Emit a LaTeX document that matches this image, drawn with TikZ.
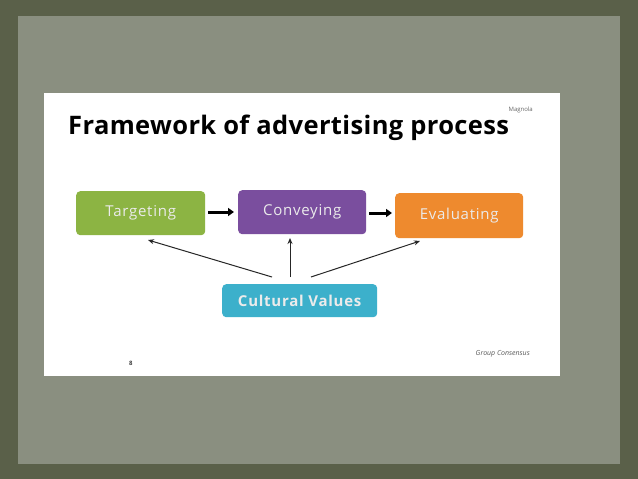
\documentclass[tikz,border=0pt]{standalone}
\usepackage{fontspec}
\setmainfont{Open Sans}
\newfontfamily\boxfont[LetterSpace=5]{Open Sans}
\newfontfamily\titlefont[LetterSpace=1.5]{Open Sans}
\usetikzlibrary{arrows.meta}
\definecolor{frameDark}{HTML}{5A6049}
\definecolor{panel}{HTML}{8A8F80}
\definecolor{tgreen}{HTML}{8CB443}
\definecolor{cpurple}{HTML}{7A4E9E}
\definecolor{eorange}{HTML}{EE8A2E}
\definecolor{cteal}{HTML}{3CB0CB}
\tikzset{
  x=1pt,y=-1pt,
  stepbox/.style={draw=none,rounded corners=4pt,text=white!92!black,font=\boxfont\fontsize{15}{18}\selectfont,inner sep=0pt,anchor=north west},
  thickarrow/.style={line width=3pt,-{Triangle[length=6pt,width=8pt]}},
  thinarrow/.style={line width=1pt,draw=black!85,-{Stealth[length=6pt,width=5pt]}}
}
\begin{document}
\begin{tikzpicture}
\useasboundingbox (0,0) rectangle (638,479);
\fill[frameDark] (0,0) rectangle (638,479);
\fill[panel] (18,16) rectangle (620,464);
\fill[white] (44,93) rectangle (560,376);
\node[anchor=base west,font=\titlefont\bfseries\fontsize{25.5}{30}\selectfont,inner sep=0pt] (title) at (68,134) {Framework of advertising process};
\node[anchor=base east,font=\fontsize{6}{7}\selectfont,text=black!60,inner sep=0pt] (mag) at (533,111) {Magnola};
\node[stepbox,fill=tgreen,minimum width=129pt,minimum height=44pt] (t) at (76,191) {Targeting};
\node[stepbox,fill=cpurple,minimum width=128pt,minimum height=44pt] (c) at (238,190) {Conveying};
\node[stepbox,fill=eorange,minimum width=128pt,minimum height=45pt] (e) at (395,193) {Evaluating};
\node[stepbox,fill=cteal,minimum width=155pt,minimum height=33pt,font=\boxfont\bfseries\fontsize{15}{18}\selectfont] (cv) at (222,284) {Cultural Values};
\coordinate (a1s) at (208,212);
\coordinate (a1e) at (234,212);
\coordinate (a2s) at (369,213);
\coordinate (a2e) at (392,213);
\draw[thickarrow] (a1s) -- (a1e);
\draw[thickarrow] (a2s) -- (a2e);
\coordinate (s1) at (272,277);
\coordinate (s2) at (290,277);
\coordinate (s3) at (311,277);
\coordinate (e1) at (148,240);
\coordinate (e2) at (290,238);
\coordinate (e3) at (420,241);
\draw[thinarrow] (s1) -- (e1);
\draw[thinarrow] (s2) -- (e2);
\draw[thinarrow] (s3) -- (e3);
\node[anchor=base east,font=\itshape\fontsize{7}{8}\selectfont,text=black!65,inner sep=0pt] (gc) at (530,355) {Group Consensus};
\node[anchor=base west,font=\bfseries\fontsize{6}{7}\selectfont,text=black!75,inner sep=0pt] (num) at (129,365) {8};
\end{tikzpicture}
\end{document}
